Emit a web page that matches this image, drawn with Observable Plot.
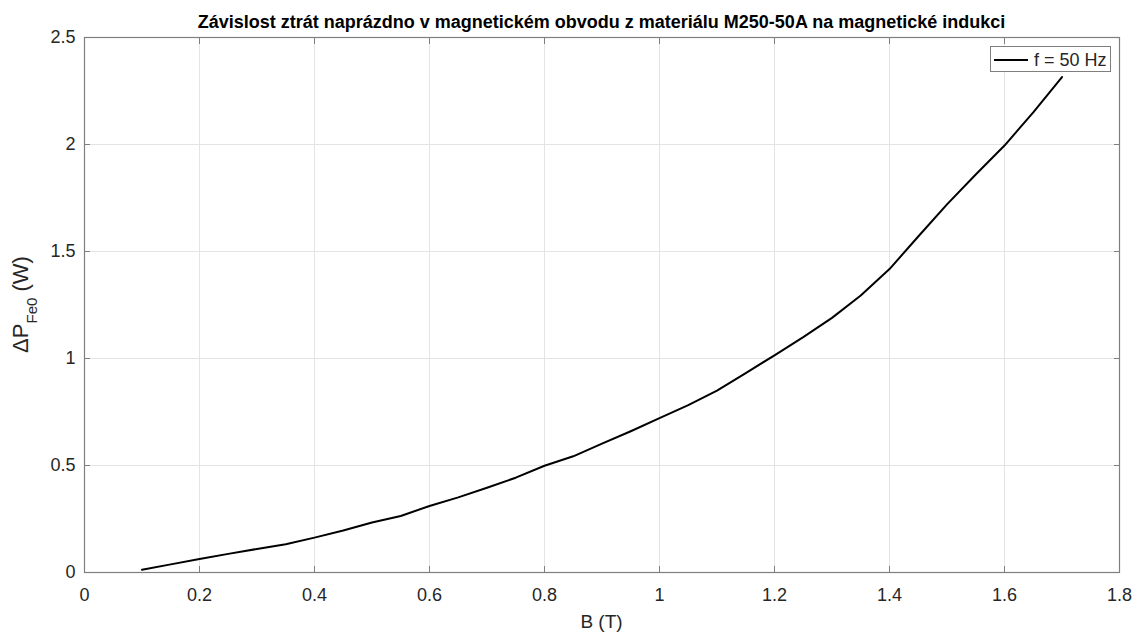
<!DOCTYPE html>
<html><head><meta charset="utf-8">
<script src="https://cdn.jsdelivr.net/npm/d3@7"></script>
<script src="https://cdn.jsdelivr.net/npm/@observablehq/plot@0.6"></script>
<style>
body{margin:0;background:#fff;font-family:"Liberation Sans",Arial,sans-serif;}
#wrap{position:relative;width:1138px;height:632px;overflow:hidden;}
#title{position:absolute;left:0;top:13px;box-sizing:border-box;width:1138px;height:18px;padding-left:65px;line-height:18px;font-size:18px;font-weight:bold;text-align:center;color:#000;white-space:nowrap;}
#legend{position:absolute;left:990px;top:46px;width:121px;height:26px;box-sizing:border-box;border:1px solid #7f7f7f;background:#fff;}
#legend .sw{position:absolute;left:3px;top:12px;width:34px;height:2px;background:#000;}
#legend .lb{position:absolute;left:43px;top:3px;font-size:18px;line-height:20px;color:#262626;white-space:nowrap;}
svg{display:block;}
</style>
</head><body>
<div id="wrap">
  <div id="chart"></div>
  <div id="title"></div>
  <div id="legend"><span class="sw"></span><span class="lb"></span></div>
</div>
<script>
const titleText = "Závislost ztrát naprázdno v magnetickém obvodu z materiálu M250-50A na magnetické indukci";
const seriesName = "f = 50 Hz";
const xLabel = "B (T)";
const B = [0.10,0.15,0.20,0.25,0.30,0.35,0.40,0.45,0.50,0.55,0.60,0.65,0.70,0.75,0.80,0.85,0.90,0.95,1.00,1.05,1.10,1.15,1.20,1.25,1.30,1.35,1.40,1.45,1.50,1.55,1.60,1.65,1.70];
const P = [0.013,0.038,0.063,0.087,0.110,0.132,0.163,0.196,0.234,0.264,0.311,0.351,0.396,0.443,0.499,0.543,0.602,0.660,0.721,0.782,0.850,0.932,1.015,1.100,1.190,1.294,1.418,1.570,1.720,1.860,1.995,2.150,2.315];
const xTicks = [0,0.2,0.4,0.6,0.8,1,1.2,1.4,1.6,1.8];
const yTicks = [0,0.5,1,1.5,2,2.5];

const data = B.map((b,i)=>({B:b, P:P[i]}));

document.getElementById("title").textContent = titleText;
document.querySelector("#legend .lb").textContent = seriesName;

const axisColor = "#7f7f7f";
const textColor = "#262626";
const mT = 37, mB = 60, mL = 84, mR = 19, H = 632, W = 1138;

const chart = Plot.plot({
  width: W,
  height: H,
  marginTop: mT,
  marginBottom: mB,
  marginLeft: mL,
  marginRight: mR,
  style: {fontFamily: '"Liberation Sans", Arial, sans-serif', fontSize: "18px", color: textColor, background: "transparent", overflow: "visible"},
  x: {domain: [0, 1.8]},
  y: {domain: [0, 2.5]},
  marks: [
    Plot.gridX(xTicks, {stroke: "#e4e4e4", strokeOpacity: 1}),
    Plot.gridY(yTicks, {stroke: "#e4e4e4", strokeOpacity: 1}),
    Plot.line(data, {x: "B", y: "P", stroke: "#000", strokeWidth: 2}),
    Plot.axisX(xTicks, {anchor: "bottom", tickSize: -6, tickPadding: 22, stroke: axisColor, fill: textColor, label: null, tickFormat: d => String(d), fontSize: 18}),
    Plot.axisX(xTicks, {anchor: "top", tickSize: -6, stroke: axisColor, label: null, tickFormat: () => ""}),
    Plot.axisY(yTicks, {anchor: "left", tickSize: -6, tickPadding: 15, stroke: axisColor, fill: textColor, label: null, tickFormat: d => String(d), fontSize: 18}),
    Plot.axisY(yTicks, {anchor: "right", tickSize: -6, stroke: axisColor, label: null, tickFormat: () => ""}),
    Plot.frame({stroke: axisColor, strokeWidth: 1.2})
  ]
});
document.getElementById("chart").appendChild(chart);

const svg = d3.select(chart);
// y-axis label with subscript
const yl = svg.append("text")
  .attr("transform", `translate(28, ${(mT + H - mB)/2}) rotate(-90)`)
  .attr("text-anchor", "middle")
  .attr("fill", textColor)
  .attr("font-size", 22)
  .attr("font-family", '"Liberation Sans", Arial, sans-serif');
yl.append("tspan").text("ΔP");
yl.append("tspan").attr("font-size", 15).attr("dy", 9).text("Fe0");
yl.append("tspan").attr("dy", -9).text(" (W)");
// x-axis label
svg.append("text")
  .attr("x", (mL + W - mR)/2)
  .attr("y", 628)
  .attr("text-anchor", "middle")
  .attr("fill", textColor)
  .attr("font-size", 19)
  .attr("font-family", '"Liberation Sans", Arial, sans-serif')
  .text(xLabel);
</script>
</body></html>
